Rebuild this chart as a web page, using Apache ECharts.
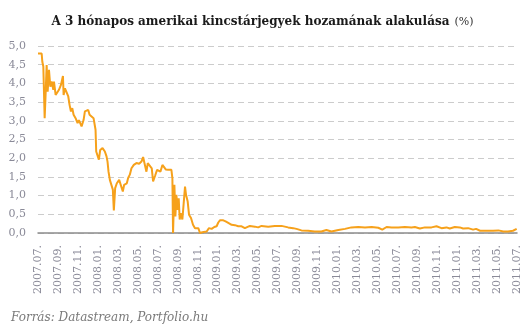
<!DOCTYPE html>
<html>
<head>
<meta charset="utf-8">
<script src="https://cdn.jsdelivr.net/npm/echarts@6/dist/echarts.min.js"></script>
<style>
html,body{margin:0;padding:0;background:#fff;}
#chart{width:525px;height:332px;}
</style>
</head>
<body>
<div id="chart"></div>
<script>
// ---- data ----
var titleText = 'A 3 hónapos amerikai kincstárjegyek hozamának alakulása';
var unitText = '(%)';
var sourceText = 'Forrás: Datastream, Portfolio.hu';

var dates = [
  '2007-07-01','2007-07-02','2007-07-07','2007-07-12','2007-07-14','2007-07-17','2007-07-21','2007-07-24','2007-07-27','2007-07-30',
  '2007-08-04','2007-08-08','2007-08-12','2007-08-17','2007-08-19','2007-08-24','2007-08-30','2007-09-04','2007-09-10','2007-09-16',
  '2007-09-18','2007-09-22','2007-09-28','2007-10-02','2007-10-06','2007-10-10','2007-10-14','2007-10-18','2007-10-24','2007-10-30',
  '2007-11-04','2007-11-08','2007-11-12','2007-11-18','2007-11-22','2007-11-28','2007-12-02','2007-12-06','2007-12-12','2007-12-18',
  '2007-12-24','2007-12-26','2007-12-30','2008-01-04','2008-01-08','2008-01-15','2008-01-20','2008-01-22','2008-01-27','2008-01-30',
  '2008-02-03','2008-02-07','2008-02-12','2008-02-16','2008-02-19','2008-02-23','2008-02-28','2008-03-05','2008-03-10','2008-03-16',
  '2008-03-20','2008-03-28','2008-04-02','2008-04-07','2008-04-12','2008-04-19','2008-04-27','2008-05-05','2008-05-12','2008-05-17',
  '2008-05-21','2008-05-27','2008-06-01','2008-06-07','2008-06-13','2008-06-17','2008-06-23','2008-06-29','2008-07-05','2008-07-09',
  '2008-07-15','2008-07-21','2008-07-25','2008-08-02','2008-08-12','2008-08-15','2008-08-17','2008-08-21','2008-08-24','2008-08-27',
  '2008-09-01','2008-09-04','2008-09-07','2008-09-10','2008-09-15','2008-09-19','2008-09-23','2008-09-26','2008-10-01','2008-10-05',
  '2008-10-11','2008-10-17','2008-10-23','2008-10-28','2008-11-03','2008-11-08','2008-11-15','2008-11-21','2008-11-28','2008-12-05',
  '2008-12-13','2008-12-21','2008-12-28','2009-01-03','2009-01-08','2009-01-18','2009-01-25','2009-02-03','2009-02-13','2009-02-23',
  '2009-03-03','2009-03-13','2009-03-23','2009-04-08','2009-04-23','2009-05-03','2009-05-13','2009-06-03','2009-06-23','2009-07-13',
  '2009-08-03','2009-08-18','2009-08-28','2009-09-13','2009-10-03','2009-10-23','2009-11-13','2009-11-28','2009-12-13','2010-01-04',
  '2010-01-24','2010-02-13','2010-03-04','2010-03-24','2010-04-14','2010-05-04','2010-05-16','2010-05-29','2010-06-14','2010-07-04',
  '2010-07-24','2010-08-14','2010-08-24','2010-09-09','2010-09-24','2010-10-14','2010-10-29','2010-11-14','2010-11-29','2010-12-09',
  '2010-12-24','2011-01-09','2011-01-19','2011-02-04','2011-02-19','2011-02-28','2011-03-10','2011-03-30','2011-04-19','2011-05-05',
  '2011-05-20','2011-06-04','2011-06-19','2011-06-30'
];
var yields = [
  4.80,4.85,4.80,4.80,4.58,4.45,3.07,3.74,4.49,3.78,
  4.36,3.91,4.05,3.83,4.05,3.69,3.65,3.83,3.96,4.20,
  3.69,3.87,3.87,3.65,3.42,3.25,3.34,3.16,3.07,2.94,
  3.02,3.02,2.85,3.02,3.25,3.25,3.29,3.16,3.20,3.07,
  2.76,2.18,2.22,1.96,2.22,2.27,2.22,2.18,2.05,1.91,
  1.64,1.42,1.38,1.16,0.60,1.20,1.33,1.42,1.38,1.11,
  1.29,1.33,1.47,1.56,1.73,1.82,1.87,1.85,1.91,2.03,
  1.87,1.64,1.87,1.85,1.73,1.38,1.53,1.69,1.69,1.64,
  1.82,1.78,1.70,1.69,1.69,1.47,0.00,1.29,0.44,1.02,
  0.62,0.93,0.36,0.53,0.36,0.80,1.24,1.02,0.84,0.49,
  0.40,0.22,0.13,0.09,0.13,0.00,0.02,0.00,0.04,0.13,
  0.11,0.16,0.18,0.28,0.34,0.34,0.31,0.27,0.22,0.21,
  0.18,0.18,0.13,0.19,0.17,0.15,0.19,0.17,0.19,0.19,
  0.15,0.13,0.11,0.07,0.06,0.04,0.04,0.08,0.04,0.08,
  0.11,0.15,0.16,0.15,0.16,0.14,0.09,0.16,0.15,0.15,
  0.16,0.15,0.16,0.12,0.15,0.15,0.18,0.13,0.15,0.12,
  0.16,0.15,0.12,0.13,0.09,0.11,0.06,0.06,0.06,0.07,
  0.04,0.04,0.06,0.11
];
var startYear = 2007, startMonth = 7;   // first x-axis label: 2007.07.
var monthSpan = 48;                     // last label: 2011.07.
var labelStep = 2;                      // a label every 2 months
var yMax = 5, yStep = 0.5;

// ---- helpers ----
function monthIndex(d) {
  var p = d.split('-');
  return (+p[0] - startYear) * 12 + (+p[1] - startMonth) + (+p[2] - 1) / 30;
}
function monthLabel(m) {
  var t = startMonth - 1 + Math.round(m);
  var y = startYear + Math.floor(t / 12);
  var mo = t % 12 + 1;
  return y + '.' + (mo < 10 ? '0' : '') + mo + '.';
}
var seriesData = dates.map(function (d, i) { return [monthIndex(d), yields[i]]; });

var labelColor = '#8a8a98';
var serif = '"DejaVu Serif", Georgia, serif';

var chart = echarts.init(document.getElementById('chart'), null, {renderer: 'canvas'});
chart.setOption({
  animation: false,
  backgroundColor: '#ffffff',
  title: {
    left: 'center',
    top: 8,
    text: '{b|' + titleText + '} {n|' + unitText + '}',
    textStyle: {
      rich: {
        b: {fontFamily: serif, fontWeight: 'bold', fontSize: 12, color: '#1a1a1a'},
        n: {fontFamily: serif, fontWeight: 'normal', fontSize: 11, color: '#333'}
      }
    }
  },
  graphic: [{
    type: 'text',
    left: 11,
    top: 312,
    style: {
      text: sourceText,
      fontFamily: serif,
      fontStyle: 'italic',
      fontSize: 12,
      fill: '#7a7a7a'
    }
  }],
  grid: {left: 38, right: 8, top: 46, bottom: 99},
  xAxis: {
    type: 'value',
    min: 0,
    max: monthSpan,
    interval: labelStep,
    axisLine: {show: true, onZero: true, lineStyle: {color: '#8c8c8c', width: 1.5}},
    axisTick: {show: false},
    splitLine: {show: false},
    axisLabel: {
      rotate: 90,
      margin: 12,
      fontFamily: serif,
      fontSize: 11,
      color: labelColor,
      formatter: function (v) { return monthLabel(v); }
    }
  },
  yAxis: {
    type: 'value',
    min: 0,
    max: yMax,
    interval: yStep,
    axisLine: {show: false},
    axisTick: {show: false},
    splitLine: {show: true, lineStyle: {color: '#cccccc', type: [6, 4], width: 1}},
    axisLabel: {
      margin: 12,
      fontFamily: serif,
      fontSize: 11,
      color: labelColor,
      formatter: function (v) { return v.toFixed(1).replace('.', ','); }
    }
  },
  series: [{
    type: 'line',
    data: seriesData,
    showSymbol: false,
    symbol: 'none',
    lineStyle: {color: '#F6A11B', width: 2},
    z: 3
  }]
});
</script>
</body>
</html>
